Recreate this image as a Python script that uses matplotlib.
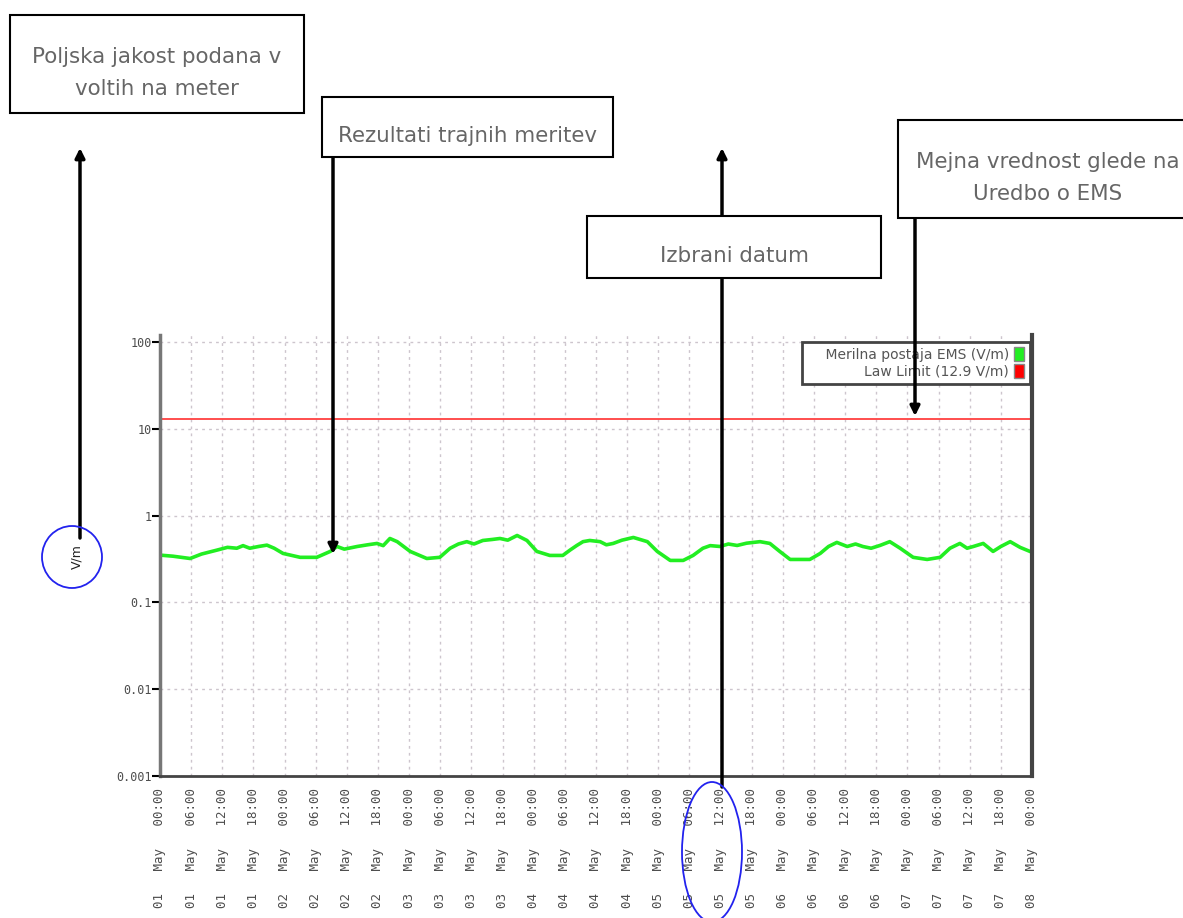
import matplotlib
matplotlib.use("Agg")
import matplotlib.pyplot as plt
from matplotlib.patches import Rectangle, Ellipse, Patch, FancyArrowPatch
from matplotlib.transforms import ScaledTranslation
import pandas as pd

# measured field strength, hours after 01 May 00:00 and value in V/m
hours = [0, 2.5, 5.8, 8.0, 11.0, 13.0, 14.8, 16.0, 17.3, 19.0, 20.6, 22.0,
         23.7, 27.0, 30.2, 32.8, 34.1, 35.5, 38.0, 40.0, 41.8, 43.0, 44.3,
         45.7, 48.2, 51.4, 53.9, 55.9, 57.5, 59.1, 60.5, 62.2, 64.0, 65.5,
         67.0, 68.8, 70.7, 72.6, 75.1, 77.6, 79.0, 80.3, 81.5, 82.8, 84.8,
         86.0, 87.3, 89.0, 91.2, 93.9, 95.8, 98.3, 100.8, 102.7, 104.6, 106.0,
         107.9, 109.5, 111.2, 113.0, 115.6, 117.5, 119.4, 121.4, 125.2, 127.2,
         128.8, 130.4, 132.4, 134.0, 135.4, 137.0, 138.7, 140.6, 142.6, 145.1,
         147.8, 150.3, 152.2, 154.1, 155.5, 156.7, 158.6, 160.5, 162.0, 163.8,
         165.7, 167.6]
field = [0.35, 0.34, 0.32, 0.36, 0.40, 0.43, 0.42, 0.45, 0.42, 0.44, 0.456,
         0.42, 0.366, 0.33, 0.33, 0.386, 0.44, 0.41, 0.44, 0.46, 0.477, 0.45,
         0.544, 0.50, 0.386, 0.32, 0.33, 0.42, 0.47, 0.50, 0.47, 0.516, 0.53,
         0.544, 0.52, 0.589, 0.516, 0.386, 0.347, 0.347, 0.40, 0.452, 0.50,
         0.516, 0.50, 0.46, 0.477, 0.52, 0.559, 0.50, 0.386, 0.304, 0.304,
         0.347, 0.42, 0.45, 0.44, 0.47, 0.452, 0.48, 0.50, 0.477, 0.386, 0.312,
         0.312, 0.366, 0.44, 0.49, 0.44, 0.47, 0.44, 0.42, 0.452, 0.50, 0.42,
         0.33, 0.312, 0.33, 0.42, 0.477, 0.42, 0.44, 0.477, 0.386, 0.44, 0.50,
         0.43, 0.386]
law_limit = 12.9
series_labels = ["    Merilna postaja EMS (V/m)", "Law Limit (12.9 V/m)"]
y_ticks = [0.001, 0.01, 0.1, 1, 10, 100]
y_tick_labels = ["0.001", "0.01", "0.1", "1", "10", "100"]
start = pd.Timestamp("2021-05-01 00:00")
end = pd.Timestamp("2021-05-08 00:00")

# annotation boxes: text, left, top, width, height (figure pixels, from top)
notes = [
    ("Poljska jakost podana v\nvoltih na meter", 10, 15, 294, 98),
    ("Rezultati trajnih meritev", 322, 97, 291, 60),
    ("Izbrani datum", 587, 216, 294, 62),
    ("Mejna vrednost glede na\nUredbo o EMS", 898, 120, 300, 98),
]

W, H = 1183, 918
fig = plt.figure(figsize=(W / 100, H / 100), dpi=100)
ax = fig.add_axes([160 / W, 1 - 776 / H, 872 / W, 441 / H])

times = [start + pd.Timedelta(hours=h) for h in hours]
ax.plot(times, field, color="#22ee22", lw=2.6)
ax.axhline(law_limit, color="#ff3030", lw=1.2)

ax.set_yscale("log")
ax.set_ylim(0.001, 120)
ax.set_xlim(start, end)
ax.set_yticks(y_ticks)
ax.set_yticklabels(y_tick_labels)
ax.minorticks_off()

xt = pd.date_range(start, end, freq="6h")
ax.set_xticks(xt)
ax.set_xticklabels([t.strftime("%d   May   %H:%M") for t in xt])
for lab in ax.get_xticklabels():
    lab.set_rotation(90)
    lab.set_family("DejaVu Sans Mono")
    lab.set_fontsize(9)
    lab.set_color("#4d4d4d")
    lab.set_transform(lab.get_transform() + ScaledTranslation(-6 / 100, 0, fig.dpi_scale_trans))
for lab in ax.get_yticklabels():
    lab.set_family("DejaVu Sans Mono")
    lab.set_fontsize(8.5)
    lab.set_color("#4d4d4d")

ax.tick_params(axis="x", length=0, pad=9)
ax.tick_params(axis="y", length=6, width=1.5, color="black", pad=0)
ax.grid(True, color="#cdc5cd", ls=(0, (2, 3)), lw=1)

ax.spines["top"].set_visible(False)
ax.spines["left"].set_color("#777777")
ax.spines["left"].set_linewidth(2.5)
ax.spines["right"].set_color("#444444")
ax.spines["right"].set_linewidth(3)
ax.spines["bottom"].set_color("#444444")
ax.spines["bottom"].set_linewidth(2)

handles = [Patch(facecolor="#22ee22", edgecolor="#888888"),
           Patch(facecolor="#ff0000", edgecolor="#888888")]
leg = ax.legend(handles, series_labels, loc="upper right", bbox_to_anchor=(0.999, 0.988),
                borderaxespad=0.1, markerfirst=False, fontsize=10, handlelength=0.7,
                handleheight=1.2, handletextpad=0.4, labelspacing=0.15, borderpad=0.4,
                fancybox=False, framealpha=1, edgecolor="#444444")
leg.get_frame().set_linewidth(2)
for t in leg.get_texts():
    t.set_color("#555555")


def fy(y):
    return H - y


# annotation boxes
for text, x0, y0, w, h in notes:
    fig.add_artist(Rectangle((x0, fy(y0 + h)), w, h, transform=None, facecolor="white",
                             edgecolor="black", lw=1.5, zorder=5))
    fig.text((x0 + w / 2) / W, fy(y0 + h / 2 + 9) / H, text, ha="center", va="center",
             fontsize=15.4, color="#666666", linespacing=1.8, zorder=6)

# arrows
arrow_kw = dict(arrowstyle="-|>", lw=2.5, color="black", mutation_scale=14,
                shrinkA=0, shrinkB=0)
arrows = [((80, 538), (80, 148)), ((333, 157), (333, 554)),
          ((722, 787), (722, 148)), ((915, 218), (915, 416))]
for (xa, ya), (xb, yb) in arrows:
    fig.add_artist(FancyArrowPatch((xa, fy(ya)), (xb, fy(yb)), transform=None,
                                   zorder=4, **arrow_kw))

# y label and highlight circles
fig.text(77 / W, fy(557) / H, "V/m", rotation=90, ha="center", va="center",
         fontsize=9, color="#222222", zorder=7)
fig.add_artist(Ellipse((72, fy(557)), 60, 62, transform=None, fill=False,
                       edgecolor="#2222ee", lw=1.3, zorder=7))
fig.add_artist(Ellipse((712, fy(852)), 60, 140, transform=None, fill=False,
                       edgecolor="#2222ee", lw=1.3, zorder=7))

fig.savefig("out.png", dpi=100)
